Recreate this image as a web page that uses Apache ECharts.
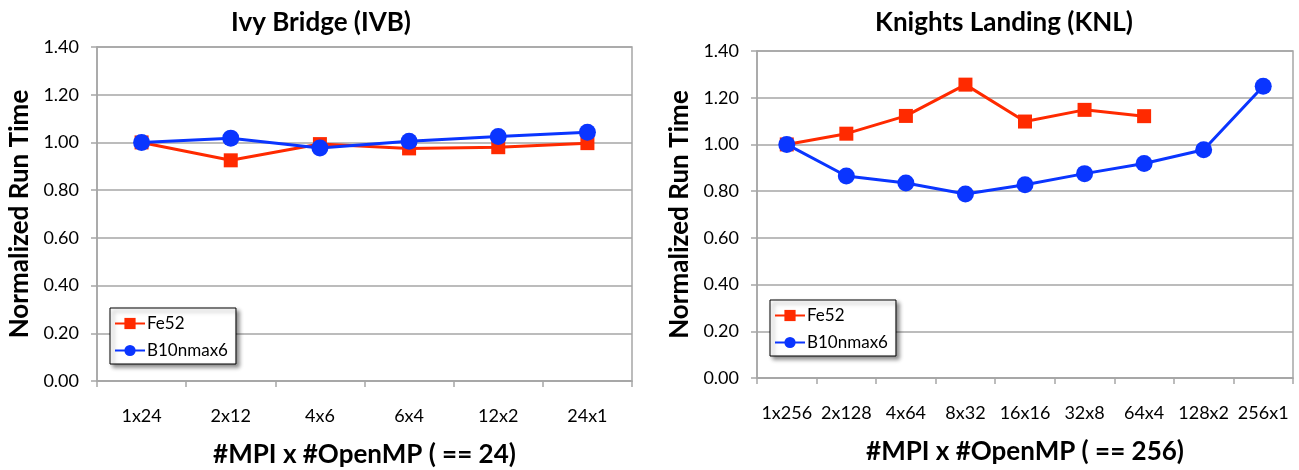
<!DOCTYPE html>
<html>
<head>
<meta charset="utf-8">
<script src="https://cdn.jsdelivr.net/npm/echarts@6/dist/echarts.min.js"></script>
<style>
  html, body { margin: 0; padding: 0; background: #fff; }
  #main { width: 1299px; height: 470px; }
</style>
</head>
<body>
<div id="main"></div>
<script>
// data
var ivbCategories = ['1x24', '2x12', '4x6', '6x4', '12x2', '24x1'];
var ivbFe52 = [1.00, 0.925, 0.993, 0.975, 0.98, 0.997];
var ivbB10 = [1.00, 1.018, 0.977, 1.005, 1.025, 1.043];

var knlCategories = ['1x256', '2x128', '4x64', '8x32', '16x16', '32x8', '64x4', '128x2', '256x1'];
var knlFe52 = [1.00, 1.046, 1.122, 1.256, 1.098, 1.148, 1.121, null, null];
var knlB10 = [1.00, 0.865, 0.835, 0.788, 0.827, 0.875, 0.918, 0.977, 1.249];

var yTicks = [0, 0.2, 0.4, 0.6, 0.8, 1.0, 1.2, 1.4];

var RED = '#ff2a00';
var BLUE = '#0a35ff';
var GRIDC = '#a6a6a6';
var FONT = 'Lato, "Open Sans", sans-serif';

var myChart = echarts.init(document.getElementById('main'));

function xAxis(idx, cats, name) {
    return {
        type: 'category',
        gridIndex: idx,
        data: cats,
        boundaryGap: true,
        name: name,
        nameLocation: 'middle',
        nameGap: 61,
        nameTextStyle: { fontFamily: FONT, fontWeight: 'bold', fontSize: 26, color: '#000' },
        axisLine: { lineStyle: { color: GRIDC, width: 1.5 } },
        axisTick: { show: true, length: 6, lineStyle: { color: GRIDC, width: 1.5 } },
        axisLabel: { margin: 26, fontFamily: FONT, fontSize: 18, color: '#000', interval: 0 },
        splitLine: { show: false }
    };
}

function yAxis(idx) {
    return {
        type: 'value',
        gridIndex: idx,
        min: yTicks[0],
        max: yTicks[yTicks.length - 1],
        interval: 0.2,
        name: 'Normalized Run Time',
        nameLocation: 'middle',
        nameGap: 64,
        nameTextStyle: { fontFamily: FONT, fontWeight: 'bold', fontSize: 26, color: '#000' },
        axisLine: { show: true, lineStyle: { color: GRIDC, width: 1.5 } },
        axisTick: { show: true, length: 6, lineStyle: { color: GRIDC, width: 1.5 } },
        axisLabel: {
            margin: 18, fontFamily: FONT, fontSize: 18, color: '#000',
            formatter: function (v) { return v.toFixed(2); }
        },
        splitLine: { show: true, lineStyle: { color: GRIDC, width: 1.5 } }
    };
}

function lineSeries(name, idx, data, color, symbol, size) {
    return {
        name: name,
        type: 'line',
        xAxisIndex: idx,
        yAxisIndex: idx,
        data: data,
        symbol: symbol,
        symbolSize: size,
        showSymbol: true,
        connectNulls: false,
        lineStyle: { color: color, width: 3 },
        itemStyle: { color: color },
        emphasis: { disabled: true },
        animation: false
    };
}

function legend(left, top) {
    return {
        orient: 'vertical',
        left: left,
        top: top,
        data: ['Fe52', 'B10nmax6'],
        backgroundColor: '#fff',
        borderColor: '#000',
        borderWidth: 1,
        padding: [7, 8, 5, 4],
        itemGap: 10,
        itemWidth: 30,
        itemHeight: 14,
        shadowColor: 'rgba(0,0,0,0.45)',
        shadowBlur: 4,
        shadowOffsetX: 3,
        shadowOffsetY: 3,
        textStyle: { fontFamily: FONT, fontSize: 17, color: '#000', padding: [0, 0, 0, -3] },
        selectedMode: false
    };
}

var option = {
    backgroundColor: '#fff',
    animation: false,
    title: [
        {
            text: 'Ivy Bridge (IVB)', left: 316, top: 5, textAlign: 'center',
            textStyle: { fontFamily: FONT, fontWeight: 'bold', fontSize: 26, color: '#000' }
        },
        {
            text: 'Knights Landing (KNL)', left: 999, top: 5, textAlign: 'center',
            textStyle: { fontFamily: FONT, fontWeight: 'bold', fontSize: 26, color: '#000' }
        }
    ],
    legend: [legend(110, 308), legend(770, 300)],
    grid: [
        { left: 97, top: 47, width: 535, height: 334, outerBoundsMode: 'none', containLabel: false,
          show: true, borderColor: GRIDC, borderWidth: 1.5 },
        { left: 757, top: 51, width: 536, height: 327, outerBoundsMode: 'none', containLabel: false,
          show: true, borderColor: GRIDC, borderWidth: 1.5 }
    ],
    xAxis: [
        xAxis(0, ivbCategories, '#MPI x #OpenMP ( == 24)'),
        xAxis(1, knlCategories, '#MPI x #OpenMP ( == 256)')
    ],
    yAxis: [yAxis(0), yAxis(1)],
    series: [
        lineSeries('Fe52', 0, ivbFe52, RED, 'rect', 14),
        lineSeries('B10nmax6', 0, ivbB10, BLUE, 'circle', 17),
        lineSeries('Fe52', 1, knlFe52, RED, 'rect', 14),
        lineSeries('B10nmax6', 1, knlB10, BLUE, 'circle', 17)
    ]
};

myChart.setOption(option);
window.addEventListener('resize', function () {
    myChart.resize();
});
</script>
</body>
</html>
